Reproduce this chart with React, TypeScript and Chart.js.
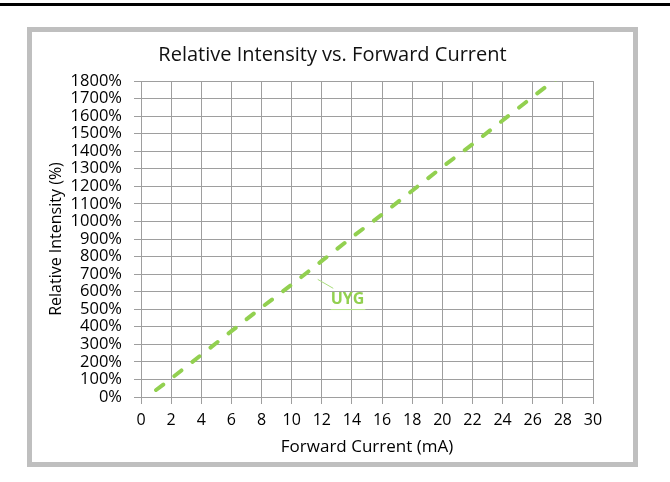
import React, { useEffect, useRef } from "react";
import { Chart, registerables } from "chart.js";

Chart.register(...registerables);

const currentMA = [1, 2, 4, 6, 8, 10, 12, 14, 16, 18, 20, 22, 24, 26, 28];
const intensityPct = [40, 105, 240, 375, 510, 640, 775, 910, 1040, 1175, 1310, 1440, 1575, 1710, 1840];
const seriesName = "UYG";
const titleText = "Relative Intensity vs. Forward Current";
const xTitle = "Forward Current (mA)";
const yTitle = "Relative Intensity (%)";
const xMin = 0, xMax = 30, xStep = 2;
const yMin = 0, yMax = 1800, yStep = 100;
// label anchor (data coordinates)
const leaderFrom = [11.73, 670];
const leaderTo = [12.76, 619];
const labelAt = [12.59, 558];

const GREEN = "#92D050";
const GRID = "#9e9e9e";
const FONT = "'Open Sans', sans-serif";

const labelPlugin = {
  id: "uygLabel",
  afterDatasetsDraw(chart: any) {
    const { ctx, scales } = chart;
    const x = scales.x, y = scales.y;
    ctx.save();
    ctx.strokeStyle = "#a9dc7c";
    ctx.lineWidth = 1;
    ctx.beginPath();
    ctx.moveTo(x.getPixelForValue(leaderFrom[0]), y.getPixelForValue(leaderFrom[1]));
    ctx.lineTo(x.getPixelForValue(leaderTo[0]), y.getPixelForValue(leaderTo[1]));
    ctx.stroke();
    ctx.font = `bold 16px ${FONT}`;
    ctx.fillStyle = GREEN;
    ctx.textAlign = "left";
    ctx.textBaseline = "middle";
    const lx = x.getPixelForValue(labelAt[0]);
    const ly = y.getPixelForValue(labelAt[1]);
    ctx.fillText(seriesName, lx, ly);
    const w = ctx.measureText(seriesName).width;
    ctx.strokeStyle = "#b5e08e";
    ctx.beginPath();
    ctx.moveTo(lx, ly + 10.5);
    ctx.lineTo(lx + w + 1, ly + 10.5);
    ctx.stroke();
    ctx.restore();
  },
};

const titlePlugin = {
  id: "centeredTitle",
  afterDraw(chart: any) {
    const { ctx, width } = chart;
    ctx.save();
    ctx.font = `20px ${FONT}`;
    ctx.fillStyle = "#111";
    ctx.textAlign = "center";
    ctx.textBaseline = "middle";
    ctx.fillText(titleText, width / 2, 23);
    ctx.restore();
  },
};

function ChartCanvas() {
  const ref = useRef<HTMLCanvasElement | null>(null);
  useEffect(() => {
    if (!ref.current) return;
    const chart = new Chart(ref.current, {
      type: "line",
      data: {
        datasets: [
          {
            label: seriesName,
            data: currentMA.map((c, i) => ({ x: c, y: intensityPct[i] })),
            borderColor: GREEN,
            backgroundColor: GREEN,
            borderWidth: 4,
            borderDash: [9, 14],
            borderCapStyle: "round",
            pointRadius: 0,
            tension: 0,
            fill: false,
            clip: 0,
          } as any,
        ],
      },
      options: {
        responsive: false,
        animation: false,
        devicePixelRatio: 1,
        layout: { padding: { left: 0, right: 40, top: 49, bottom: 0 } },
        plugins: {
          legend: { display: false },
          tooltip: { enabled: false },
          title: { display: false },
        },
        scales: {
          x: {
            type: "linear",
            min: xMin,
            max: xMax,
            ticks: { stepSize: xStep, color: "#000", font: { family: FONT, size: 16 }, padding: 7, maxRotation: 0, autoSkip: false },
            grid: { color: GRID, lineWidth: 1, tickLength: 7, drawTicks: true },
            border: { color: GRID, width: 1 },
            title: { display: true, text: xTitle, color: "#000", font: { family: FONT, size: 17 }, padding: { top: 0, bottom: 5 } },
            afterFit(scale: any) { scale.height = 65; },
          },
          y: {
            type: "linear",
            min: yMin,
            max: yMax,
            ticks: { stepSize: yStep, color: "#000", font: { family: FONT, size: 16.5 }, padding: 12, autoSkip: false, callback: (v: any) => `${v}%` },
            grid: { color: GRID, lineWidth: 1, tickLength: 7, drawTicks: true },
            border: { color: GRID, width: 1 },
            title: { display: true, text: yTitle, color: "#000", font: { family: FONT, size: 16 }, padding: { top: 15, bottom: 0 } },
            afterFit(scale: any) { scale.width = 109; },
          },
        },
      } as any,
      plugins: [labelPlugin, titlePlugin],
    });
    return () => chart.destroy();
  }, []);
  return <canvas ref={ref} width={601} height={430} style={{ position: "absolute", left: 32, top: 32, width: 601, height: 430 }} />;
}

export default function App() {
  return (
    <div style={{ position: "absolute", left: 0, top: 0, width: 670, height: 482, background: "#fff", overflow: "hidden" }}>
      <div style={{ position: "absolute", left: 0, top: 3, width: 670, height: 3, background: "#000" }} />
      <div style={{ position: "absolute", left: 27, top: 27, width: 611, height: 440, boxSizing: "border-box", border: "5px solid #BFBFBF" }} />
      <ChartCanvas />
    </div>
  );
}
